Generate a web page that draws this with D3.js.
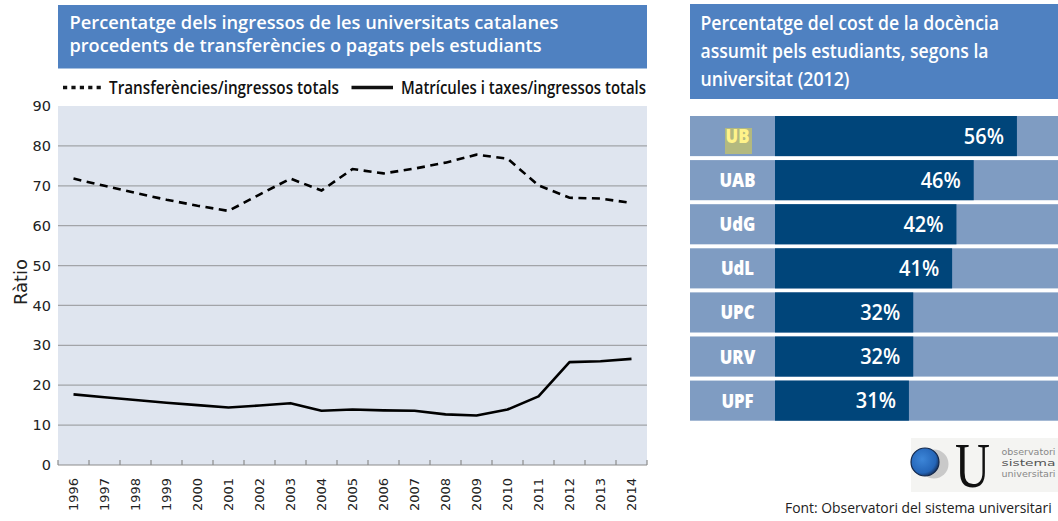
<!DOCTYPE html>
<html>
<head>
<meta charset="utf-8">
<script src="https://cdn.jsdelivr.net/npm/d3@7"></script>
<style>
  html, body { margin: 0; padding: 0; background: #ffffff; }
  svg { display: block; }
</style>
</head>
<body>
<script>
// ---------- DATA ----------
const years = ["1996","1997","1998","1999","2000","2001","2002","2003","2004","2005",
               "2006","2007","2008","2009","2010","2011","2012","2013","2014"];
const transferencies = [71.8, 70.0, 68.2, 66.5, 65.0, 63.7, 67.8, 71.8, 68.8, 74.2,
                        73.1, 74.3, 75.8, 77.8, 76.8, 70.1, 67.0, 66.8, 65.7];
const matricules = [17.7, 17.0, 16.3, 15.6, 15.0, 14.4, 14.9, 15.5, 13.6, 13.9,
                    13.7, 13.6, 12.7, 12.4, 13.9, 17.2, 25.8, 26.0, 26.6];
const yTicks = [0, 10, 20, 30, 40, 50, 60, 70, 80, 90];
const seriesNames = ["Transferències/ingressos totals", "Matrícules i taxes/ingressos totals"];

const universitats = ["UB","UAB","UdG","UdL","UPC","URV","UPF"];
const costPercent = [56, 46, 42, 41, 32, 32, 31];

const leftTitle = ["Percentatge dels ingressos de les universitats catalanes",
                   "procedents de transferències o pagats pels estudiants"];
const rightTitle = ["Percentatge del cost de la docència",
                    "assumit pels estudiants, segons la",
                    "universitat (2012)"];
const yLabel = "Ràtio";
const sourceText = "Font: Observatori del sistema universitari";
const logoWords = ["observatori", "sistema", "universitari"];

// ---------- SETUP ----------
const W = 1058, H = 521;
const svg = d3.select("body").append("svg").attr("width", W).attr("height", H);
const condFont = "'Open Sans', 'Noto Sans', sans-serif";
const axisFont = "'DejaVu Sans', Verdana, sans-serif";

function fitWidth(sel, w) {
  sel.attr("textLength", w).attr("lengthAdjust", "spacingAndGlyphs");
}
function condense(sel, f) {
  sel.each(function () {
    const l = this.getComputedTextLength();
    this.setAttribute("textLength", l * f);
    this.setAttribute("lengthAdjust", "spacingAndGlyphs");
  });
}

// ---------- LEFT CHART ----------
const L = { x0: 58, x1: 647, yTop: 106, yBot: 465 };

// title box
svg.append("rect").attr("x", 58).attr("y", 5).attr("width", 589).attr("height", 63.5)
  .attr("fill", "#4f81c1");
const ltw = [489, 472];
leftTitle.forEach((t, i) => {
  svg.append("text").attr("x", 69.5).attr("y", 28.5 + i * 23.5)
    .attr("font-family", condFont).attr("font-weight", 600).attr("font-size", 18.5)
    .attr("fill", "#ffffff").text(t).call(fitWidth, ltw[i]);
});

// legend
svg.append("line").attr("x1", 63).attr("x2", 104).attr("y1", 87.5).attr("y2", 87.5)
  .attr("stroke", "#111").attr("stroke-width", 3.4).attr("stroke-dasharray", "4.2,4.2");
svg.append("text").attr("x", 109).attr("y", 94).attr("font-family", condFont)
  .attr("font-weight", 600).attr("font-size", 17.5).attr("fill", "#111")
  .text(seriesNames[0]).call(fitWidth, 230);
svg.append("line").attr("x1", 351.5).attr("x2", 393).attr("y1", 87.5).attr("y2", 87.5)
  .attr("stroke", "#111").attr("stroke-width", 3.4);
svg.append("text").attr("x", 401).attr("y", 94).attr("font-family", condFont)
  .attr("font-weight", 600).attr("font-size", 17.5).attr("fill", "#111")
  .text(seriesNames[1]).call(fitWidth, 245);

// scales
const x = d3.scaleBand().domain(years).range([L.x0, L.x1]).padding(0);
const xc = d => x(d) + x.bandwidth() / 2;
const y = d3.scaleLinear().domain([0, 90]).range([L.yBot, L.yTop]);

// plot background
svg.append("rect").attr("x", L.x0).attr("y", L.yTop).attr("width", L.x1 - L.x0)
  .attr("height", L.yBot - L.yTop).attr("fill", "#dfe5ef");

// grid
svg.append("g").selectAll("line").data(yTicks.filter(v => v > 0 && v < 90)).join("line")
  .attr("x1", L.x0).attr("x2", L.x1).attr("y1", d => y(d)).attr("y2", d => y(d))
  .attr("stroke", "#a2a4a8").attr("stroke-width", 1.2);

// y axis
const yAxis = svg.append("g").attr("transform", `translate(${L.x0},0)`)
  .call(d3.axisLeft(y).tickValues(yTicks).tickSize(0).tickPadding(7));
yAxis.select(".domain").remove();
yAxis.selectAll("text").attr("font-family", axisFont).attr("font-size", 14.5).attr("fill", "#222");

// y label
svg.append("text").attr("transform", `translate(27,282) rotate(-90)`)
  .attr("text-anchor", "middle").attr("font-family", axisFont).attr("font-size", 18)
  .attr("fill", "#222").text(yLabel);

// x axis line + tick marks at band boundaries
svg.append("line").attr("x1", L.x0).attr("x2", L.x1).attr("y1", L.yBot).attr("y2", L.yBot)
  .attr("stroke", "#8c8c8c").attr("stroke-width", 1.2);
const boundaries = years.map(d => x(d)).concat([L.x1]);
svg.append("g").selectAll("line").data(boundaries).join("line")
  .attr("x1", d => d).attr("x2", d => d).attr("y1", L.yBot - 5).attr("y2", L.yBot)
  .attr("stroke", "#8c8c8c").attr("stroke-width", 1.2);

// x labels
const xAxis = svg.append("g").attr("transform", `translate(0,${L.yBot})`)
  .call(d3.axisBottom(x).tickSize(0).tickPadding(0));
xAxis.select(".domain").remove();
xAxis.selectAll("text")
  .attr("font-family", axisFont).attr("font-size", 13).attr("fill", "#222")
  .attr("text-anchor", "end").attr("dy", null)
  .attr("transform", "translate(4.8,13) rotate(-90)").attr("x", 0).attr("y", 0);

// lines
const lineGen = d3.line().x((d, i) => xc(years[i])).y(d => y(d));
svg.append("path").datum(transferencies).attr("d", lineGen).attr("fill", "none")
  .attr("stroke", "#000").attr("stroke-width", 2.6).attr("stroke-dasharray", "8,5.5");
svg.append("path").datum(matricules).attr("d", lineGen).attr("fill", "none")
  .attr("stroke", "#000").attr("stroke-width", 2.6).attr("stroke-linejoin", "round");

// ---------- RIGHT CHART ----------
svg.append("rect").attr("x", 690).attr("y", 4).attr("width", W - 690).attr("height", 95)
  .attr("fill", "#4f81c1");
const rtw = [298.5, 288, 149];
rightTitle.forEach((t, i) => {
  svg.append("text").attr("x", 700.5).attr("y", 29.5 + i * 28)
    .attr("font-family", condFont).attr("font-weight", 600).attr("font-size", 19.5)
    .attr("fill", "#ffffff").text(t).call(fitWidth, rtw[i]);
});

const yb = d3.scaleBand().domain(universitats).range([116, 420.7]).paddingInner(0.09).paddingOuter(0);
const xb = d3.scaleLinear().domain([0, 100]).range([775, 775 + 432]);

const rows = svg.append("g").selectAll("g").data(universitats).join("g")
  .attr("transform", d => `translate(0,${yb(d)})`);
rows.append("rect").attr("x", 690).attr("y", 0).attr("width", W - 690)
  .attr("height", yb.bandwidth()).attr("fill", "#7f9cc2");
rows.append("rect").attr("x", xb(0)).attr("y", 0)
  .attr("width", (d, i) => xb(costPercent[i]) - xb(0))
  .attr("height", yb.bandwidth()).attr("fill", "#00457a");

// UB highlight
rows.filter(d => d === "UB").append("rect").attr("x", 725).attr("y", 12)
  .attr("width", 27).attr("height", 26).attr("fill", "#b3b97f");

rows.append("text").attr("x", 737.5).attr("y", yb.bandwidth() / 2 + 7)
  .attr("text-anchor", "middle").attr("font-family", condFont).attr("font-weight", 800)
  .attr("font-size", 19).attr("fill", d => d === "UB" ? "#fff38a" : "#ffffff")
  .text(d => d).call(condense, 0.88);

rows.append("text").attr("x", (d, i) => xb(costPercent[i]) - 13)
  .attr("y", yb.bandwidth() / 2 + 7.5)
  .attr("text-anchor", "end").attr("font-family", condFont).attr("font-weight", 600)
  .attr("font-size", 21).attr("fill", "#ffffff")
  .text((d, i) => costPercent[i] + "%").call(condense, 0.95);

// ---------- LOGO ----------
const logo = svg.append("g");
logo.append("rect").attr("x", 911).attr("y", 438).attr("width", W - 911).attr("height", 54)
  .attr("fill", "#f4f4f2");
logo.append("circle").attr("cx", 934).attr("cy", 464).attr("r", 14.5).attr("fill", "#c9c9c9");
const grad = svg.append("defs").append("radialGradient").attr("id", "bl")
  .attr("cx", "40%").attr("cy", "40%").attr("r", "65%");
grad.append("stop").attr("offset", "0%").attr("stop-color", "#3d86d8");
grad.append("stop").attr("offset", "75%").attr("stop-color", "#2465b8");
grad.append("stop").attr("offset", "100%").attr("stop-color", "#132c55");
logo.append("circle").attr("cx", 925).attr("cy", 462).attr("r", 14).attr("fill", "url(#bl)")
  .attr("stroke", "#14284a").attr("stroke-width", 1.2);
logo.append("text").attr("x", 955).attr("y", 487).attr("font-family", "'Liberation Serif', serif")
  .attr("font-size", 64).attr("fill", "#111").text("U").call(fitWidth, 35);
logoWords.forEach((w, i) => {
  logo.append("text").attr("x", 1001.5).attr("y", 455 + i * 11)
    .attr("font-family", "'DejaVu Sans', sans-serif").attr("font-size", 8.5)
    .attr("fill", i === 1 ? "#555" : "#888").text(w).call(fitWidth, 54);
});

// source (scaled horizontally through a transform so its box stays inside the page)
const srcG = svg.append("g");
const src = srcG.append("text").attr("x", 0).attr("y", 0).attr("font-family", condFont)
  .attr("font-size", 15).attr("fill", "#222").text(sourceText);
const srcLen = src.node().getComputedTextLength();
srcG.attr("transform", `translate(785,512.5) scale(${267 / srcLen},1)`);
</script>
</body>
</html>
